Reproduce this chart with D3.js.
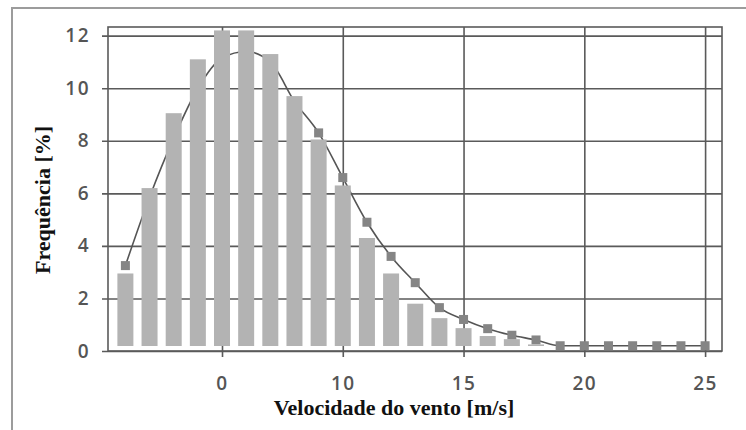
<!DOCTYPE html>
<html>
<head>
<meta charset="utf-8">
<script src="https://cdn.jsdelivr.net/npm/d3@7"></script>
<style>
  body { margin: 0; background: #fff; }
  svg { display: block; }
  .tick text { font-family: "Open Sans", sans-serif; font-weight: 600; font-size: 19px; fill: #555; letter-spacing: 1.5px; }
  .title { font-family: "Liberation Serif", "Times New Roman", serif; font-weight: bold; font-size: 22px; fill: #111; }
</style>
</head>
<body>
<div id="chart"></div>
<script>
// velocidade do vento (m/s) e frequencias (%)
var speeds = [1, 2, 3, 4, 5, 6, 7, 8, 9, 10, 11, 12, 13, 14, 15, 16, 17, 18, 19, 20, 21, 22, 23, 24, 25];
var barFreq = [2.95, 6.2, 9.05, 11.1, 12.2, 12.2, 11.3, 9.7, 8.05, 6.3, 4.3, 2.95, 1.8, 1.25, 0.87, 0.57, 0.45, 0.25, 0.15, 0.12, 0.12, 0.12, 0.12, 0.12, 0.12];
var curveFreq = [3.25, 5.85, 8.1, 10.0, 11.15, 11.4, 11.0, 9.5, 8.3, 6.6, 4.9, 3.6, 2.6, 1.65, 1.2, 0.85, 0.6, 0.42, 0.2, 0.2, 0.2, 0.2, 0.2, 0.2, 0.2];
var xTicks = [5, 10, 15, 20, 25];
var xTickLabels = ["0", "10", "15", "20", "25"]; // como no original
var yTicks = [0, 2, 4, 6, 8, 10, 12];

var W = 746, H = 430;
var plotLeft = 108, plotRight = 722, plotTop = 27, plotBottom = 351;
var gridColor = '#5a5a5a';

var svg = d3.select('#chart').append('svg').attr('width', W).attr('height', H);

// moldura externa
svg.append('rect').attr('x', 12).attr('y', 8).attr('width', 760).attr('height', 440)
  .attr('fill', 'none').attr('stroke', '#9c9c9c').attr('stroke-width', 2);

var x = d3.scaleLinear().domain([0.28, 25.7]).range([plotLeft, plotRight]);
var y = d3.scaleLinear().domain([0, 12.33]).range([plotBottom, plotTop]);

// eixo y + grade horizontal
var yAxis = svg.append('g').attr('transform', 'translate(' + (plotLeft - 6) + ',0)')
  .call(d3.axisLeft(y).tickValues(yTicks).tickSize(-(plotRight - plotLeft + 6)).tickPadding(12));
yAxis.select('.domain').remove();
yAxis.selectAll('.tick line').attr('stroke', gridColor).attr('stroke-width', 1.6);

// eixo x + grade vertical
var xAxis = svg.append('g').attr('transform', 'translate(0,' + (plotBottom + 6) + ')')
  .call(d3.axisBottom(x).tickValues(xTicks).tickSize(-(plotBottom + 6 - plotTop)).tickPadding(20)
    .tickFormat(function(d, i) { return xTickLabels[i]; }));
xAxis.select('.domain').remove();
xAxis.selectAll('.tick line').attr('stroke', gridColor).attr('stroke-width', 1.6);

// borda da area do grafico
svg.append('rect').attr('x', plotLeft).attr('y', plotTop)
  .attr('width', plotRight - plotLeft).attr('height', plotBottom - plotTop)
  .attr('fill', 'none').attr('stroke', gridColor).attr('stroke-width', 1.6);

// curva (fica atras das barras)
var line = d3.line()
  .x(function(d, i) { return x(speeds[i]); })
  .y(function(d) { return y(d); })
  .curve(d3.curveMonotoneX);

svg.append('path').datum(curveFreq).attr('d', line)
  .attr('fill', 'none').attr('stroke', '#555').attr('stroke-width', 1.6);

svg.selectAll('.marker').data(curveFreq).enter().append('rect')
  .attr('class', 'marker')
  .attr('x', function(d, i) { return x(speeds[i]) - 4.5; })
  .attr('y', function(d) { return y(d) - 4.5; })
  .attr('width', 9).attr('height', 9)
  .attr('fill', '#858585');

// barras
var barW = 16;
var base = y(0) - 5;
svg.selectAll('.bar').data(barFreq).enter().append('rect')
  .attr('class', 'bar')
  .attr('x', function(d, i) { return x(speeds[i]) - barW / 2; })
  .attr('y', function(d) { return Math.min(y(d), base); })
  .attr('width', barW)
  .attr('height', function(d) { return Math.max(0, base - y(d)); })
  .attr('fill', '#b3b3b3');

// titulos
svg.append('text').attr('class', 'title')
  .attr('x', 394).attr('y', 415).attr('text-anchor', 'middle')
  .text('Velocidade do vento [m/s]');

svg.append('text').attr('class', 'title')
  .attr('transform', 'translate(50,200)rotate(-90)').attr('text-anchor', 'middle')
  .text('Frequência [%]');
</script>
</body>
</html>
